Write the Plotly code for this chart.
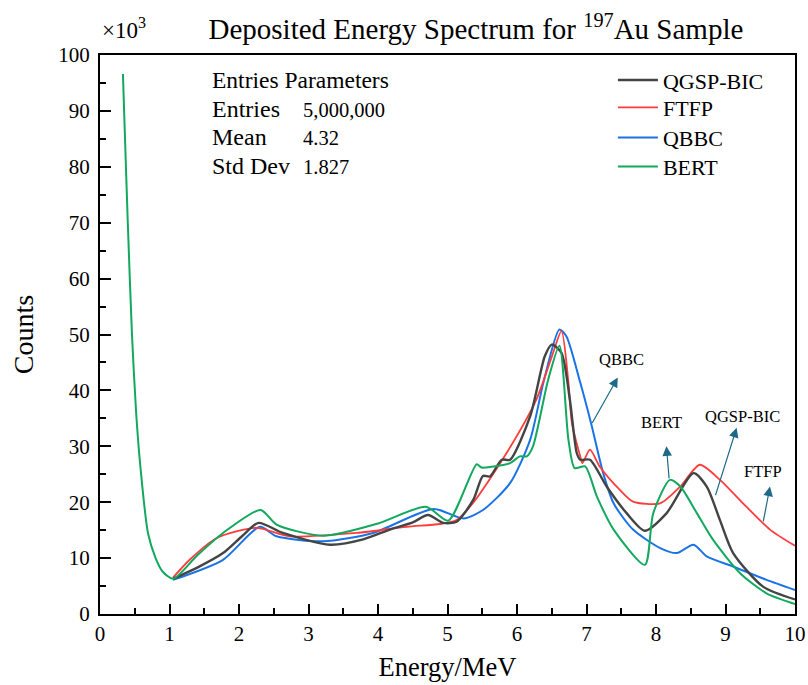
import plotly.graph_objects as go

# ---------------- data (Energy in MeV, Counts in x10^3) ----------------
head_E = [0.33, 0.36, 0.40, 0.46, 0.52, 0.58, 0.69, 0.80, 0.90, 1.05]
head_C = [96.6, 85.0, 70.0, 50.0, 36.0, 26.5, 14.5, 10.0, 7.6, 6.3]

qgsp_E = [1.05, 1.40, 1.77, 2.05, 2.28, 2.63, 3.31, 3.80, 4.17, 4.50, 4.72, 4.94, 5.13, 5.37, 5.51, 5.61, 5.78, 5.90,
          6.19, 6.40, 6.50, 6.64, 6.76, 6.86, 6.91, 7.05, 7.29, 7.58, 7.84, 8.15, 8.54, 8.73, 8.92, 9.11, 9.54, 10.0]
qgsp_C = [6.3, 8.3, 10.9, 14.0, 16.3, 14.5, 12.4, 13.4, 15.1, 16.4, 17.7, 16.3, 16.5, 20.4, 24.7, 24.6, 27.6, 27.6,
          35.4, 46.1, 48.2, 46.7, 38.4, 28.8, 27.6, 27.6, 22.8, 18.0, 14.9, 18.0, 25.2, 22.8, 16.8, 10.9, 4.9, 2.6]

ftfp_E = [1.05, 1.29, 1.68, 2.25, 2.73, 3.69, 4.41, 4.89, 5.13, 5.37, 5.85, 6.28, 6.50, 6.64, 6.74, 6.79, 6.91, 6.94,
          7.05, 7.19, 7.48, 7.67, 8.06, 8.35, 8.63, 8.92, 9.30, 9.64, 10.0]
ftfp_C = [6.5, 9.7, 13.6, 15.4, 13.9, 14.5, 15.6, 16.1, 16.8, 19.9, 28.8, 38.4, 46.0, 50.6, 41.4, 34.2, 28.2, 27.0,
          29.4, 26.4, 22.2, 20.1, 19.8, 22.8, 26.7, 24.0, 19.2, 15.1, 12.2]

qbbc_E = [1.05, 1.77, 2.30, 2.54, 3.21, 3.93, 4.80, 5.23, 5.51, 5.90, 6.19, 6.38, 6.61, 6.71, 6.91, 7.07, 7.24, 7.39,
          7.67, 8.06, 8.30, 8.54, 8.73, 9.11, 9.59, 10.0]
qbbc_C = [6.1, 9.7, 15.6, 13.9, 13.0, 14.5, 18.8, 17.1, 18.6, 23.4, 31.2, 41.4, 50.9, 49.7, 41.4, 33.9, 25.2, 19.8,
          15.1, 11.8, 10.9, 12.4, 10.3, 8.5, 6.1, 4.3]

bert_E = [1.05, 1.40, 1.77, 2.31, 2.54, 3.21, 4.00, 4.69, 5.01, 5.42, 5.49, 5.90, 6.04, 6.14, 6.23, 6.45, 6.61, 6.74,
          6.83, 6.98, 7.15, 7.39, 7.84, 7.96, 8.20, 8.35, 8.59, 8.82, 9.21, 9.59, 10.0]
bert_C = [6.3, 10.5, 14.5, 18.6, 16.0, 14.0, 16.2, 19.2, 16.7, 26.8, 26.2, 27.0, 28.2, 28.2, 30.0, 42.0, 48.0, 31.2,
          26.1, 26.4, 21.0, 15.1, 8.8, 18.0, 24.0, 22.8, 18.0, 13.3, 7.3, 3.7, 1.8]

series_names = ["QGSP-BIC", "FTFP", "QBBC", "BERT"]
series_colors = ["#444444", "#ff3b3b", "#1a73e6", "#12a85e"]
series_widths = [2.4, 1.8, 2.0, 2.0]

x_ticks = list(range(0, 11))
y_ticks = list(range(0, 101, 10))

stats_labels = ["Entries", "Mean", "Std Dev"]
stats_values = ["5,000,000", "4.32", "1.827"]

# arrow annotations: (label, text E, text C, tail E, tail C, head E, head C)
arrow_notes = [
    ("QBBC", 7.51, 45.5, 7.07, 33.9, 7.45, 42.3),
    ("BERT", 8.08, 34.2, 8.19, 24.0, 8.15, 30.0),
    ("QGSP-BIC", 9.25, 35.4, 8.85, 21.0, 9.16, 33.3),
    ("FTFP", 9.54, 25.5, 9.54, 16.3, 9.64, 22.8),
]

SERIF = "Liberation Serif, Times New Roman, serif"

# one legend per series so that row spacing matches the reference
legend_ids = ["legend", "legend2", "legend3", "legend4"]
legend_rows_y = [0.955, 0.906, 0.852, 0.800]

fig = go.Figure()
data = [(qgsp_E, qgsp_C), (ftfp_E, ftfp_C), (qbbc_E, qbbc_C), (bert_E, bert_C)]
order = [2, 1, 0, 3]
for i in order:
    E, C = data[i]
    if series_names[i] == "BERT":
        E = head_E[:-1] + E
        C = head_C[:-1] + C
    fig.add_trace(go.Scatter(
        x=E, y=C, mode="lines", name=series_names[i], legend=legend_ids[i],
        line=dict(color=series_colors[i], width=series_widths[i], shape="spline", smoothing=0.7),
    ))

legend_common = dict(x=0.738, xanchor="left", yanchor="middle", bgcolor="rgba(0,0,0,0)",
                     font=dict(size=22, family=SERIF), itemwidth=40)
layout_legends = {lid: dict(legend_common, y=ly) for lid, ly in zip(legend_ids, legend_rows_y)}

fig.update_layout(
    width=808, height=685,
    margin=dict(l=100, r=13, t=55, b=71, autoexpand=False),
    paper_bgcolor="white", plot_bgcolor="white",
    font=dict(family=SERIF, color="black", size=21),
    showlegend=True,
    title=dict(text="Deposited Energy Spectrum for <sup>197</sup>Au Sample", x=0.589, xanchor="center",
               y=0.958, yanchor="middle", font=dict(size=29, family=SERIF)),
    **layout_legends,
)
fig.update_xaxes(
    range=[0, 10], tickvals=x_ticks, ticks="inside", ticklen=10, tickwidth=2, tickcolor="black",
    minor=dict(dtick=0.5, ticks="inside", ticklen=6, tickwidth=2, tickcolor="black"),
    showline=True, linewidth=2, linecolor="black", mirror=True, showgrid=False, zeroline=False,
    tickfont=dict(size=21), title=dict(text="Energy/MeV", font=dict(size=26.5), standoff=12),
    automargin=False,
)
fig.update_yaxes(
    range=[0, 100], tickvals=y_ticks, ticks="inside", ticklen=11, tickwidth=2, tickcolor="black",
    minor=dict(dtick=5, ticks="inside", ticklen=6, tickwidth=2, tickcolor="black"),
    showline=True, linewidth=2, linecolor="black", mirror=True, showgrid=False, zeroline=False,
    tickfont=dict(size=21), ticklabelstandoff=4,
    title=dict(text="Counts", font=dict(size=28), standoff=16), automargin=False,
)

# x10^3 multiplier
fig.add_annotation(text="×10<sup>3</sup>", xref="paper", yref="paper", x=0.0, y=1.0, yshift=27,
                   xanchor="left", yanchor="middle", showarrow=False, font=dict(size=23, family=SERIF), xshift=0)

# stats box
fig.add_annotation(text="Entries Parameters", xref="x", yref="y", x=1.58, y=95.5, xanchor="left",
                   yanchor="middle", showarrow=False, font=dict(size=23.5, family=SERIF))
stat_y = [90.3, 85.3, 80.2]
for lab, val, yy in zip(stats_labels, stats_values, stat_y):
    fig.add_annotation(text=lab, xref="x", yref="y", x=1.58, y=yy, xanchor="left", yanchor="middle",
                       showarrow=False, font=dict(size=24, family=SERIF))
    fig.add_annotation(text=val, xref="x", yref="y", x=2.89, y=yy - 0.2, xanchor="left", yanchor="middle",
                       showarrow=False, font=dict(size=20.5, family=SERIF))

for lab, tx, ty, ax_, ay_, hx, hy in arrow_notes:
    fig.add_annotation(x=hx, y=hy, ax=ax_, ay=ay_, xref="x", yref="y", axref="x", ayref="y", text="",
                       showarrow=True, arrowhead=2, arrowsize=1.6, arrowwidth=1.2, arrowcolor="#1d6a86")
    fig.add_annotation(text=lab, x=tx, y=ty, xref="x", yref="y", showarrow=False,
                       font=dict(size=16.5, family=SERIF))

fig.write_html("out.html")
